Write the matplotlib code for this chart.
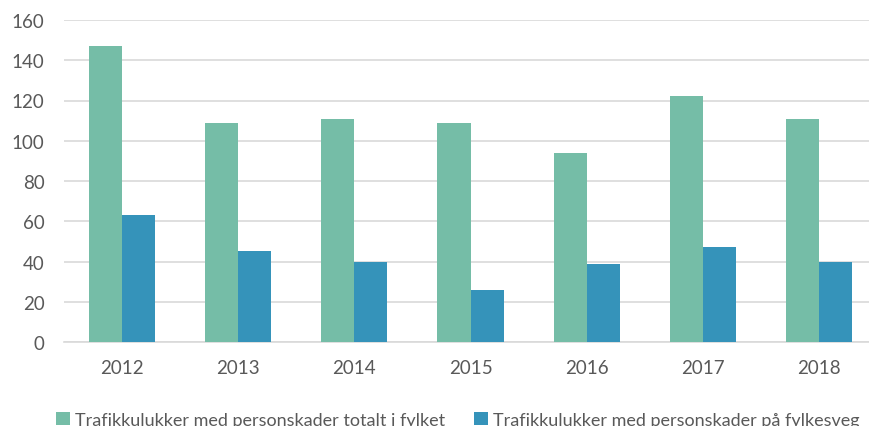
import numpy as np
import matplotlib.pyplot as plt

plt.rcParams['font.family'] = ['Lato', 'DejaVu Sans']

# data
years = ['2012', '2013', '2014', '2015', '2016', '2017', '2018']
totalt = [147, 109, 111, 109, 94, 122, 111]
fylkesveg = [63, 45, 40, 26, 39, 47, 40]
labels = ['Trafikkulukker med personskader totalt i fylket',
          'Trafikkulukker med personskader på fylkesveg']

green = '#75BDA7'
blue = '#3593BA'
text_col = '#595959'

fig = plt.figure(figsize=(8.69, 4.27), dpi=100)
ax = fig.add_axes([64 / 869, 1 - 343 / 427, 813 / 869, 322 / 427])

x = np.arange(len(years))
w = 0.285
ax.bar(x - w / 2, totalt, w, color=green, label=labels[0], zorder=3)
ax.bar(x + w / 2, fylkesveg, w, color=blue, label=labels[1], zorder=3)

ax.set_ylim(0, 160)
ax.set_xlim(-0.5, 6.5)
ax.set_yticks(range(0, 161, 20))
ax.set_xticks(x)
ax.set_xticklabels(years)
ax.yaxis.grid(True, color='#D9D9D9', linewidth=1.2, zorder=0)
for s in ['top', 'right', 'left']:
    ax.spines[s].set_visible(False)
ax.spines['bottom'].set_color('#D9D9D9')
ax.spines['bottom'].set_linewidth(1.2)
ax.tick_params(axis='both', length=0, labelsize=13.5, colors=text_col)
ax.tick_params(axis='x', pad=12)
ax.tick_params(axis='y', pad=14)

fig.legend(loc='center', bbox_to_anchor=(0.527, 0.015), ncol=2, frameon=False,
           fontsize=13, labelcolor=text_col, handlelength=0.75, handleheight=0.75,
           handletextpad=0.3, columnspacing=1.6)

fig.savefig('out.png', dpi=100)
